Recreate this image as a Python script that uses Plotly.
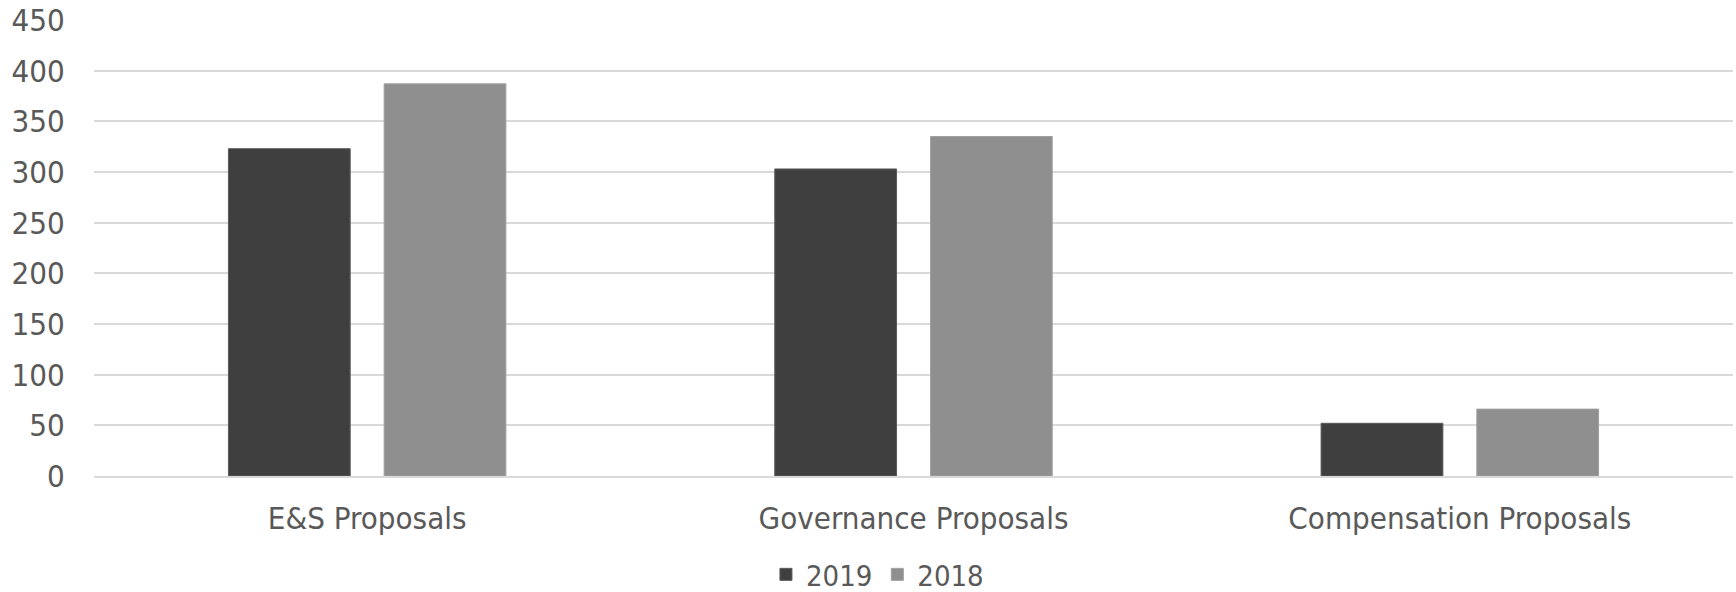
import plotly.graph_objects as go

categories = ["E&S Proposals", "Governance Proposals", "Compensation Proposals"]
values_2019 = [323, 303, 52]
values_2018 = [387, 335, 66]
y_ticks = [0, 50, 100, 150, 200, 250, 300, 350, 400, 450]

FONT = "DejaVu Sans Condensed, DejaVu Sans, sans-serif"
TXT = "#595959"

fig = go.Figure()
fig.add_trace(go.Bar(name="2019", x=categories, y=values_2019,
                     marker=dict(color="#3f3f3f", line=dict(color="#5a5a5a", width=1))))
fig.add_trace(go.Bar(name="2018", x=categories, y=values_2018,
                     marker=dict(color="#8f8f8f", line=dict(color="#a0a0a0", width=1))))

fig.update_layout(
    width=1736, height=592,
    margin=dict(l=94, r=3, t=20, b=116, autoexpand=False),
    paper_bgcolor="white", plot_bgcolor="white",
    barmode="group", bargap=0.43, bargroupgap=0.218,
    font=dict(family=FONT, size=31, color=TXT),
    showlegend=True,
    legend=dict(orientation="h", x=0.478, xanchor="center", y=-0.216, yanchor="middle",
                font=dict(size=29, color=TXT), itemwidth=30, traceorder="normal",
                tracegroupgap=0, borderwidth=0),
    xaxis=dict(showgrid=False, showline=True, linecolor="#d9d9d9", linewidth=2,
               ticks="outside", ticklen=14, tickcolor="rgba(0,0,0,0)",
               tickfont=dict(size=31, color=TXT)),
    yaxis=dict(range=[0, 450], tickvals=y_ticks, showgrid=True, gridcolor="#d9d9d9",
               gridwidth=2, zeroline=False, showline=False,
               ticks="outside", ticklen=22, tickcolor="rgba(0,0,0,0)",
               tickfont=dict(size=31, color=TXT)),
)

fig.write_html("out.html")
